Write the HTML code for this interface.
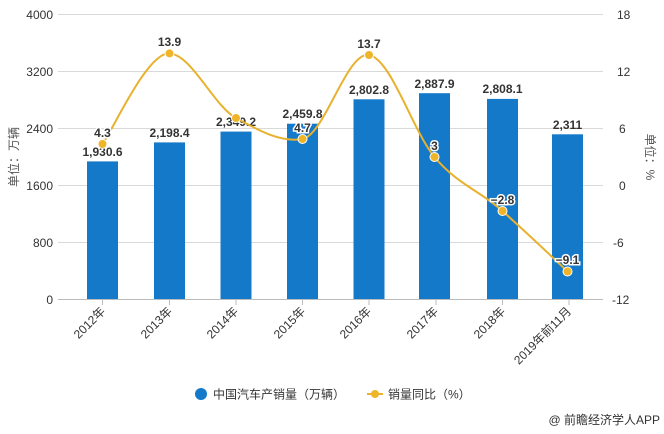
<!DOCTYPE html>
<html><head><meta charset="utf-8"><style>
body{margin:0;background:#fff}
svg text{font-family:"Liberation Sans","Noto Sans CJK SC",sans-serif}
</style></head><body>
<svg width="664" height="429" xmlns="http://www.w3.org/2000/svg">
<g stroke="#d9d9d9" stroke-width="1">
<line x1="58" x2="603" y1="14.5" y2="14.5"/><line x1="58" x2="603" y1="71.5" y2="71.5"/>
<line x1="58" x2="603" y1="128.5" y2="128.5"/><line x1="58" x2="603" y1="185.5" y2="185.5"/>
<line x1="58" x2="603" y1="242.5" y2="242.5"/>
</g>
<line x1="58" x2="603" y1="299.5" y2="299.5" stroke="#bbb"/>
<g stroke="#bbb">
<line x1="102.5" x2="102.5" y1="299" y2="305"/><line x1="169.5" x2="169.5" y1="299" y2="305"/>
<line x1="236" x2="236" y1="299" y2="305"/><line x1="302.5" x2="302.5" y1="299" y2="305"/>
<line x1="369" x2="369" y1="299" y2="305"/><line x1="436" x2="436" y1="299" y2="305"/>
<line x1="502.5" x2="502.5" y1="299" y2="305"/><line x1="569" x2="569" y1="299" y2="305"/>
</g>
<g font-size="12" fill="#333" text-anchor="end">
<text x="53" y="19">4000</text><text x="53" y="76">3200</text><text x="53" y="133">2400</text>
<text x="53" y="190">1600</text><text x="53" y="247">800</text><text x="53" y="304">0</text>
</g>
<g font-size="12" fill="#333" text-anchor="start">
<text x="617" y="19">18</text><text x="617" y="76">12</text><text x="619" y="133">6</text>
<text x="619" y="190">0</text><text x="613" y="247">-6</text><text x="612" y="304">-12</text>
</g>
<text transform="translate(18,157) rotate(-90)" font-size="12" fill="#555" text-anchor="middle">单位：万辆</text>
<text transform="translate(646,157) rotate(90)" font-size="12" fill="#555" text-anchor="middle">单位：%</text>
<g fill="#1479c9">
<rect x="87" y="161.4" width="31" height="137.6"/><rect x="154" y="142.4" width="31" height="156.6"/>
<rect x="220.5" y="131.6" width="31" height="167.4"/><rect x="287" y="123.7" width="31" height="175.3"/>
<rect x="353.5" y="99.3" width="31" height="199.7"/><rect x="419" y="93.2" width="31" height="205.8"/>
<rect x="487" y="98.9" width="31" height="200.1"/><rect x="552" y="134.3" width="31" height="164.7"/>
</g>
<g font-size="12" font-weight="bold" fill="#333" text-anchor="middle">
<text x="102.5" y="156">1,930.6</text><text x="169.5" y="137">2,198.4</text>
<text x="236" y="126">2,349.2</text><text x="302.5" y="118">2,459.8</text>
<text x="369" y="94">2,802.8</text><text x="434.5" y="88">2,887.9</text>
<text x="502.5" y="93">2,808.1</text><text x="567.5" y="129">2,311</text>
</g>
<path d="M102.5,144 C113.6,128.9 147.3,52 169.5,53.4 C191.7,54.8 213.8,106 236,118 C258.2,130 280.3,143 302.5,139 C324.7,135 346.8,51 369,55 C391.2,59 412.2,130 434.5,157 C456.8,184 480.3,191 502.5,211 C524.7,231 556.5,261 567.5,271.5" fill="none" stroke="#e8b12e" stroke-width="2"/>
<g fill="#f0b429" stroke="#fff" stroke-width="1">
<circle cx="102.5" cy="144" r="4.5"/><circle cx="169.5" cy="53.4" r="4.5"/><circle cx="236" cy="118" r="4.5"/>
<circle cx="302.5" cy="139" r="4.5"/><circle cx="369" cy="55" r="4.5"/><circle cx="434.5" cy="157" r="4.5"/>
<circle cx="502.5" cy="211" r="4.5"/><circle cx="567.5" cy="271.5" r="4.5"/>
</g>
<g font-size="12" font-weight="bold" fill="#333" text-anchor="middle" stroke="#fff" stroke-width="3" paint-order="stroke">
<text x="102.5" y="137">4.3</text><text x="169.5" y="46">13.9</text>
<text x="302.5" y="132">4.7</text><text x="369" y="48">13.7</text>
<text x="434.5" y="150">3</text><text x="502.5" y="204">−2.8</text><text x="567.5" y="264">−9.1</text>
</g>
<g font-size="12" fill="#333" text-anchor="end">
<text transform="translate(106,312) rotate(-45)">2012年</text>
<text transform="translate(173,312) rotate(-45)">2013年</text>
<text transform="translate(239,312) rotate(-45)">2014年</text>
<text transform="translate(306,312) rotate(-45)">2015年</text>
<text transform="translate(372,312) rotate(-45)">2016年</text>
<text transform="translate(439,312) rotate(-45)">2017年</text>
<text transform="translate(506,312) rotate(-45)">2018年</text>
<text transform="translate(572,312) rotate(-45)">2019年前11月</text>
</g>
<circle cx="201" cy="394" r="6" fill="#1479c9"/>
<text x="213" y="398.5" font-size="12" fill="#333">中国汽车产销量（万辆）</text>
<line x1="367" x2="383" y1="394" y2="394" stroke="#e8b12e" stroke-width="2"/>
<circle cx="375" cy="394" r="4" fill="#f0b429"/>
<text x="388" y="398.5" font-size="12" fill="#333">销量同比（%）</text>
<text x="660" y="424" font-size="12" fill="#333" text-anchor="end">@ 前瞻经济学人APP</text>
</svg>
</body></html>
